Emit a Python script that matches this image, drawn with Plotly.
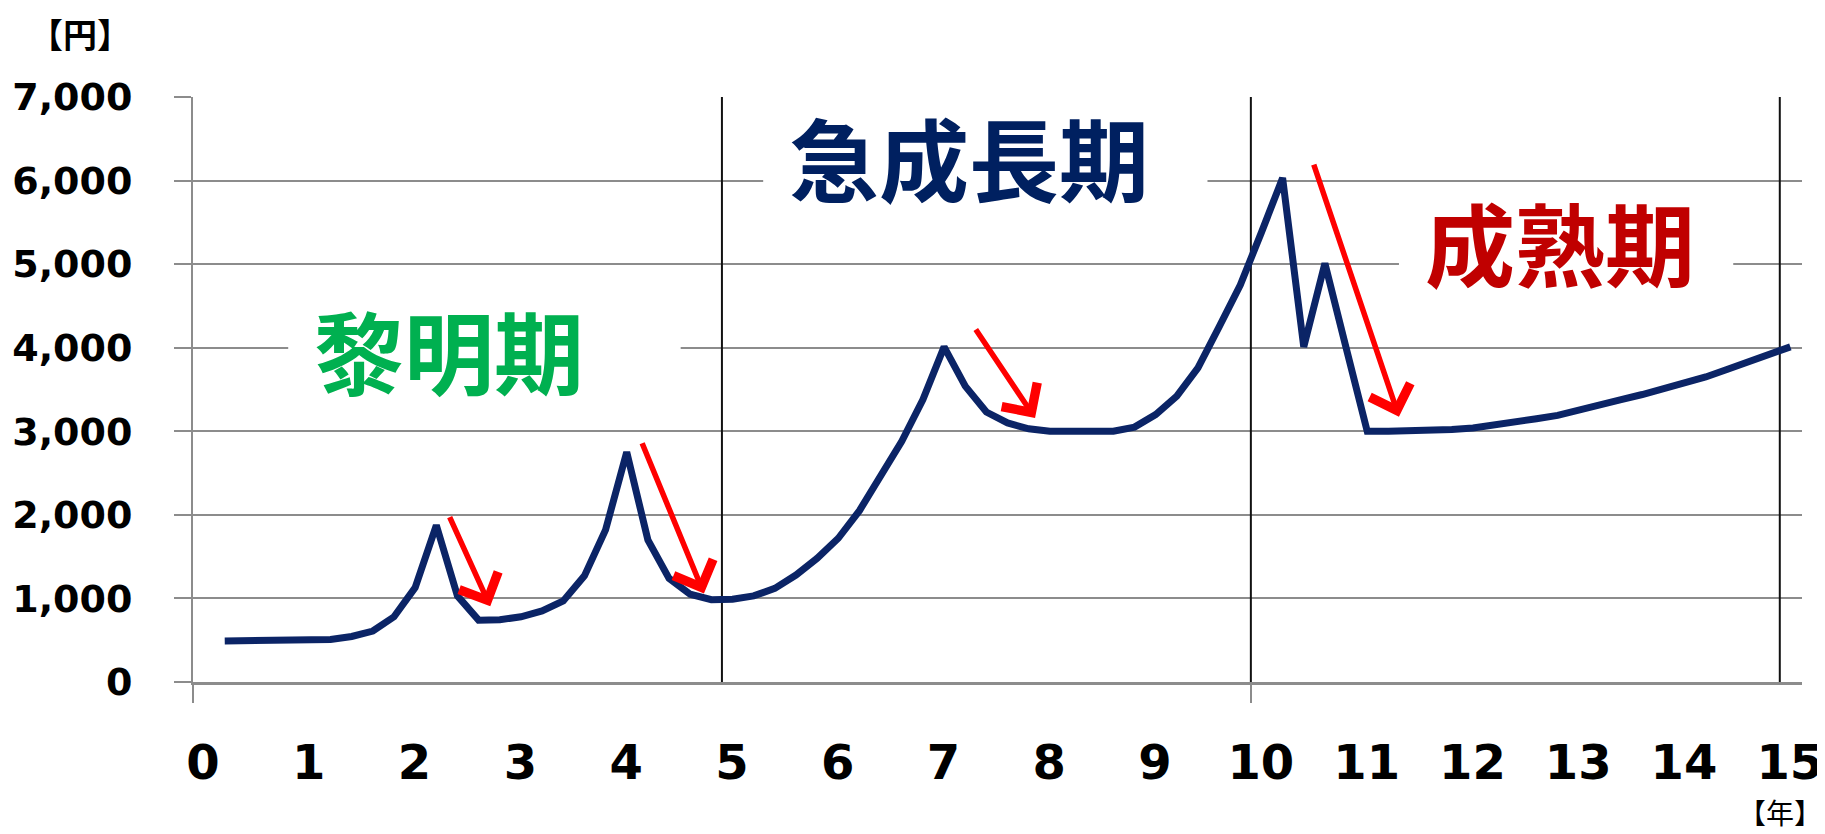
import plotly.graph_objects as go

# ---- data ----
years = [0.3, 0.5, 0.7, 0.9, 1.1, 1.3, 1.5, 1.7, 1.9, 2.1,
         2.3, 2.5, 2.7, 2.9, 3.1, 3.3, 3.5, 3.7, 3.9, 4.1,
         4.3, 4.5, 4.7, 4.9, 5.1, 5.3, 5.5, 5.7, 5.9, 6.1,
         6.3, 6.5, 6.7, 6.9, 7.1, 7.3, 7.5, 7.7, 7.9, 8.1,
         8.3, 8.5, 8.7, 8.9, 9.1, 9.3, 9.5, 9.7, 9.9, 10.1,
         10.3, 10.5, 10.7, 10.9, 11.1, 11.3, 11.5, 11.7, 11.9, 12.1,
         12.3, 12.5, 12.7, 12.9, 13.1, 13.3, 13.5, 13.7, 13.9, 14.1,
         14.3, 14.5, 14.7, 14.9, 15.1]
price = [490, 490, 490, 490, 490, 510, 545, 610, 780, 1130,
         1875, 1030, 740, 745, 780, 850, 970, 1270, 1820, 2750,
         1700, 1240, 1050, 985, 990, 1030, 1120, 1280, 1480, 1720,
         2050, 2460, 2880, 3380, 4010, 3540, 3230, 3100, 3030, 3000,
         3000, 3000, 3000, 3050, 3200, 3420, 3760, 4250, 4750, 5380,
         6030, 4010, 5010, 4000, 3000, 3000, 3000, 3010, 3020, 3040,
         3070, 3100, 3150, 3190, 3260, 3320, 3380, 3440, 3510, 3570,
         3650, 3740, 3830, 3910, 4010]

y_ticks = [0, 1000, 2000, 3000, 4000, 5000, 6000, 7000]
x_ticks = list(range(0, 16))
phase_bounds = [5, 10, 15]

# phase labels: (text, colour, box x0, box x1 (years), text centre x, text centre y)
phases = [
    ("黎明期", "#00B050", 0.90, 4.61, 2.42, 3990),
    ("急成長期", "#002060", 5.39, 9.59, 7.34, 6300),
    ("成熟期", "#C00000", 11.40, 14.56, 12.92, 5280),
]
# arrows: (tail x, tail y, head x, head y)
arrows = [
    (2.42, 1990, 2.81, 905),
    (4.24, 2875, 4.83, 1060),
    (7.39, 4236, 7.96, 3160),
    (10.59, 6210, 11.40, 3175),
]

GRID = "#8c8c8c"
XMAX = 15.21

fig = go.Figure()
fig.add_trace(go.Scatter(
    x=years, y=price, mode="lines",
    line=dict(color="#0b2466", width=7, shape="linear"),
    hoverinfo="skip", showlegend=False,
))

shapes = []
for b in phase_bounds:
    shapes.append(dict(type="line", xref="x", yref="y", x0=b, x1=b, y0=0, y1=7000,
                       line=dict(color="#111111", width=2), layer="between"))
annotations = []
for text, col, bx0, bx1, tx, ty in phases:
    shapes.append(dict(type="rect", xref="x", yref="y", x0=bx0, x1=bx1,
                       y0=ty - 420, y1=ty + 420, fillcolor="white",
                       line=dict(width=0), layer="between"))
    annotations.append(dict(x=tx, y=ty, xref="x", yref="y", text=text, showarrow=False,
                            font=dict(family="Noto Sans CJK JP", size=90, color=col,
                                      weight="bold"),
                            xanchor="center", yanchor="middle"))
for x0, y0, x1, y1 in arrows:
    annotations.append(dict(x=x1, y=y1, ax=x0, ay=y0, xref="x", yref="y",
                            axref="x", ayref="y", text="", showarrow=True,
                            arrowhead=4, arrowsize=1.5, arrowwidth=5.5,
                            arrowcolor="#FF0000", standoff=0))
annotations.append(dict(x=-0.07, y=1.108, xref="paper", yref="paper", text="【円】",
                        showarrow=False, xanchor="center", yanchor="middle",
                        font=dict(family="Noto Sans CJK JP", size=34, color="black",
                                  weight="bold")))
annotations.append(dict(x=15, y=-0.222, xref="x", yref="paper", text="【年】",
                        showarrow=False, xanchor="center", yanchor="middle",
                        font=dict(family="Noto Sans CJK JP", size=28, color="black")))

fig.update_layout(
    width=1817, height=826,
    margin=dict(l=184.5, r=23, t=89, b=152),
    paper_bgcolor="white", plot_bgcolor="white",
    shapes=shapes, annotations=annotations,
    showlegend=False,
    xaxis=dict(
        range=[0, XMAX], tickmode="array", tickvals=x_ticks,
        ticktext=[str(v) for v in x_ticks], automargin=False,
        showgrid=False, zeroline=False,
        showline=True, linecolor=GRID, linewidth=3,
        ticks="", ticklabelshift=10, ticklabelstandoff=36,
        tickfont=dict(family="DejaVu Sans", size=48, color="black", weight="bold"),
        minor=dict(tickmode="array", tickvals=[0, 10], ticks="outside",
                   ticklen=18, tickcolor=GRID, tickwidth=2),
    ),
    yaxis=dict(
        range=[0, 7000], tickmode="array", tickvals=y_ticks,
        ticktext=[f"{v:,}" for v in y_ticks], automargin=False,
        showgrid=True, gridcolor=GRID, gridwidth=2,
        zeroline=False, showline=True, linecolor=GRID, linewidth=2,
        ticks="outside", ticklen=17, tickcolor=GRID, tickwidth=2,
        ticklabelstandoff=34,
        tickfont=dict(family="DejaVu Sans", size=38, color="black", weight="bold"),
    ),
)

fig.write_html("out.html")
